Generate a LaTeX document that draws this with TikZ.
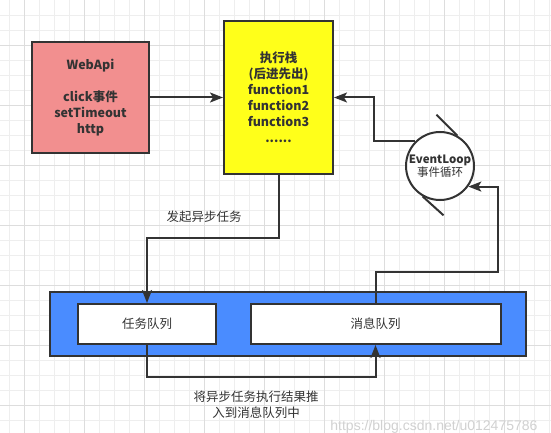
\documentclass[tikz,border=0pt]{standalone}
\usepackage{fontspec}
\setmainfont{Noto Sans CJK SC}
\newfontfamily\urlfont{Liberation Sans}
\usetikzlibrary{arrows.meta}

\definecolor{ink}{HTML}{333333}
\definecolor{gridlight}{HTML}{EEEEEE}
\definecolor{griddark}{HTML}{DDDDDD}
\definecolor{apipink}{HTML}{F28F8F}
\definecolor{stackyellow}{HTML}{FFFF1A}
\definecolor{queueblue}{HTML}{4A8CFF}

\begin{document}
\begin{tikzpicture}[x=1pt,y=-1pt,
    every node/.style={font=\fontsize{12.5}{16}\selectfont, text=ink},
    box/.style={draw=ink, line width=2pt, inner sep=0pt, align=center},
    flow/.style={draw=ink, line width=2pt, -{Stealth[length=13pt,width=10pt,inset=3pt]}},
    gridminor/.style={draw=gridlight, line width=1pt},
    gridmajor/.style={draw=griddark, line width=1pt}]

    \useasboundingbox[fill=white] (0,0) rectangle (551,433);

    % background grid
    \foreach \x in {9.5,24.5,...,550} \draw[gridminor] (\x,0) -- (\x,433);
    \foreach \y in {15.5,30.5,...,433} \draw[gridminor] (0,\y) -- (551,\y);
    \foreach \x in {24.5,84.5,...,550} \draw[gridmajor] (\x,0) -- (\x,433);
    \foreach \y in {45.5,105.5,...,433} \draw[gridmajor] (0,\y) -- (551,\y);

    % boxes
    \node[box, fill=apipink, minimum width=117pt, minimum height=111pt] (webapi) at (90.5,97.5)
        {\bfseries WebApi\\[16pt]\bfseries click事件\\\bfseries setTimeout\\\bfseries http};
    \node[box, fill=stackyellow, minimum width=109pt, minimum height=153pt] (stack) at (278.5,97.5)
        {\bfseries 执行栈\\\bfseries (后进先出)\\\bfseries function1\\\bfseries function2\\\bfseries function3\\\bfseries ......};
    \node[box, circle, fill=white, minimum size=68pt, font=\fontsize{11.5}{13.5}\selectfont] (loop) at (440,166)
        {\bfseries EventLoop\\事件循环};
    \draw[ink, line width=2pt] (loop.60) -- ++(-21,-21);
    \draw[ink, line width=2pt] (loop.240) -- ++(21,19);

    \node[box, fill=queueblue, minimum width=476pt, minimum height=64pt] (queue) at (288,324) {};
    \node[box, fill=white, minimum width=138pt, minimum height=40pt] (taskq) at (147,324) {任务队列};
    \node[box, fill=white, minimum width=250pt, minimum height=40pt] (msgq) at (375.5,324) {消息队列};

    % connectors
    \coordinate (hook) at (374,97.5);
    \coordinate (bend) at (498,272);
    \draw[flow] (webapi) -- (stack);
    \draw[flow] (stack.south) -- ++(0,63) -| (taskq.north);
    \draw[flow] (taskq.south) -- ++(0,32) -| (msgq.south);
    \draw[flow] (msgq.north) |- (bend) |- (loop.-36);
    \draw[flow] (loop.135) -| (hook) -- (stack.east);

    % labels
    \node (startlbl) at (204,216.5) {发起异步任务};
    \node[align=center] (pushlbl) at (256,405) {将异步任务执行结果推\\入到消息队列中};
    \node[anchor=east, text=black!18, font=\urlfont\fontsize{14}{16}\selectfont] (mark) at (541,426.5)
        {https://blog.csdn.net/u012475786};
\end{tikzpicture}
\end{document}
